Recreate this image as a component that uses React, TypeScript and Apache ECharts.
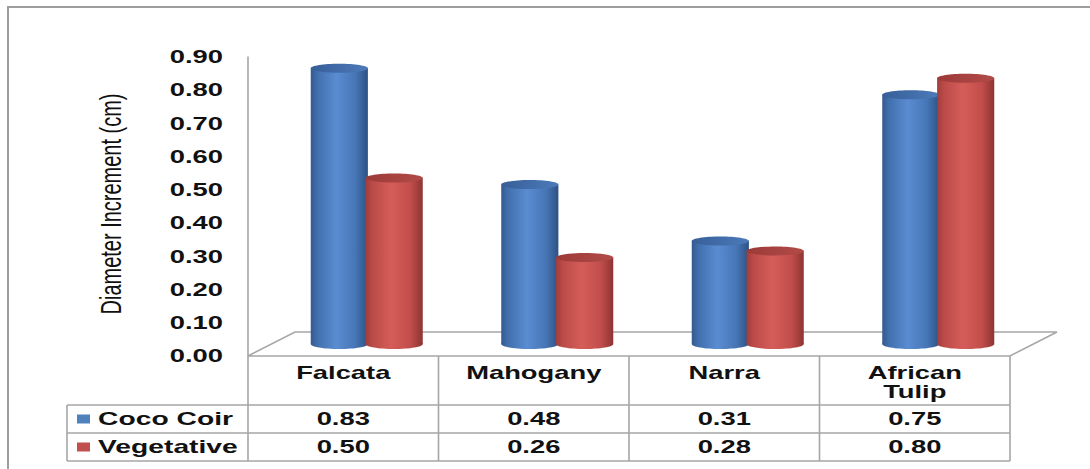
import React, { useEffect, useRef } from 'react';
import * as echarts from 'echarts';

// ---------- data ----------
const categories = ['Falcata', 'Mahogany', 'Narra', 'African Tulip'];
const seriesNames = ['Coco Coir', 'Vegetative'];
const cocoCoir = [0.83, 0.48, 0.31, 0.75];
const vegetative = [0.5, 0.26, 0.28, 0.8];
const yTickValues = [0, 0.1, 0.2, 0.3, 0.4, 0.5, 0.6, 0.7, 0.8, 0.9];
const yAxisName = 'Diameter Increment (cm)';

// ---------- layout / style ----------
const W = 1090;
const H = 469;
const PLOT_LEFT = 248;
const PLOT_RIGHT = 1010;
const PLOT_TOP = 57;
const PLOT_BOTTOM = 356;
const DEPTH_X = 47;
const DEPTH_Y = 24;
const ROW1 = 405;
const ROW2 = 433;
const ROW3 = 461;
const LEG_LEFT = 67;
const STRETCH = 1.52;
const LINE = '#a6a6a6';
const TXT = '#111';
const FONT_B = 'bold 18px "Liberation Sans", Arial, sans-serif';

const palettes = [
  {
    key: '#4f81bd',
    body: [
      [0, '#33598f'],
      [0.12, '#4270ae'],
      [0.45, '#5a8cd2'],
      [0.78, '#4776b6'],
      [1, '#2d5284'],
    ],
    top: [
      [0, '#375f98'],
      [1, '#4c7aba'],
    ],
  },
  {
    key: '#c0504d',
    body: [
      [0, '#a13d3b'],
      [0.12, '#bb4b48'],
      [0.45, '#d55d59'],
      [0.78, '#c14e4b'],
      [1, '#8e3433'],
    ],
    top: [
      [0, '#9c3a38'],
      [1, '#b24b48'],
    ],
  },
];

function grad(stops: any[]) {
  return new echarts.graphic.LinearGradient(
    0,
    0,
    1,
    0,
    stops.map(([offset, color]) => ({ offset, color }))
  );
}

function makeRenderItem(side: number) {
  const pal = palettes[side];
  return (params: any, api: any) => {
    const idx = api.value(0);
    const v = api.value(1);
    const base = api.coord([idx, 0]);
    const top = api.coord([idx, v]);
    const band = api.size([1, 0])[0];
    const w = band * 0.3;
    const sep = band * 0.144;
    const cx = base[0] + DEPTH_X / 2 + (side === 0 ? -sep : sep);
    const yb = base[1] - DEPTH_Y / 2;
    const yt = top[1] - DEPTH_Y / 2;
    const rx = w / 2;
    return {
      type: 'group',
      children: [
        {
          type: 'ellipse',
          shape: { cx, cy: yb, rx, ry: 5 },
          style: { fill: grad(pal.body) },
        },
        {
          type: 'rect',
          shape: { x: cx - rx, y: yt, width: w, height: yb - yt },
          style: { fill: grad(pal.body) },
        },
        {
          type: 'ellipse',
          shape: { cx, cy: yt, rx, ry: 4.5 },
          style: { fill: grad(pal.top) },
        },
      ],
    };
  };
}

function stretchedText(
  text: string,
  x: number,
  y: number,
  align: string,
  verticalAlign = 'middle',
  extra: any = {},
  scaleX = STRETCH
) {
  return {
    type: 'text',
    x,
    y,
    scaleX,
    z: 10,
    style: {
      text,
      x: 0,
      y: 0,
      align,
      verticalAlign,
      font: FONT_B,
      fill: TXT,
      ...extra,
    },
  };
}

function line(x1: number, y1: number, x2: number, y2: number) {
  return {
    type: 'line',
    z: 1,
    shape: { x1, y1, x2, y2 },
    style: { stroke: LINE, lineWidth: 1.6 },
  };
}

export default function App() {
  const ref = useRef<HTMLDivElement>(null);

  useEffect(() => {
    if (!ref.current) return;
    const chart = echarts.init(ref.current, undefined, { renderer: 'svg' });

    const option: any = {
      animation: false,
      backgroundColor: '#ffffff',
      grid: {
        left: PLOT_LEFT,
        right: W - PLOT_RIGHT,
        top: PLOT_TOP,
        bottom: H - PLOT_BOTTOM,
      },
      xAxis: {
        type: 'category',
        data: categories,
        show: false,
      },
      yAxis: {
        type: 'value',
        name: '',
        min: 0,
        max: 0.9,
        interval: 0.1,
        axisLabel: { show: false },
        axisTick: { show: false },
        splitLine: { show: false },
        axisLine: { show: true, lineStyle: { color: LINE, width: 1.6 } },
      },
      series: [cocoCoir, vegetative].map((vals, s) => ({
        type: 'custom',
        name: seriesNames[s],
        z: 5,
        renderItem: makeRenderItem(s),
        encode: { x: 0, y: 1 },
        data: vals.map((v, i) => [i, v]),
      })),
    };
    chart.setOption(option);

    // decorations, computed from the axes
    const colW = (PLOT_RIGHT - PLOT_LEFT) / categories.length;
    const graphics: any[] = [];

    // outer frame
    graphics.push({
      type: 'rect',
      z: 0,
      shape: { x: 8, y: 7, width: W + 40, height: H + 40 },
      style: { fill: 'none', stroke: '#9e9e9e', lineWidth: 2 },
    });

    // floor
    graphics.push({
      type: 'polygon',
      z: 0,
      shape: {
        points: [
          [PLOT_LEFT, PLOT_BOTTOM],
          [PLOT_LEFT + DEPTH_X, PLOT_BOTTOM - DEPTH_Y],
          [PLOT_RIGHT + DEPTH_X, PLOT_BOTTOM - DEPTH_Y],
          [PLOT_RIGHT, PLOT_BOTTOM],
        ],
      },
      style: { fill: '#ffffff', stroke: LINE, lineWidth: 1.6 },
    });

    // y tick labels
    yTickValues.forEach((v) => {
      const py = chart.convertToPixel({ yAxisIndex: 0 }, v) as number;
      graphics.push(stretchedText(v.toFixed(2), 223, py, 'right'));
    });

    // y axis name
    graphics.push({
      type: 'text',
      x: 111,
      y: 204,
      rotation: Math.PI / 2,
      scaleY: 1.45,
      z: 10,
      style: {
        text: yAxisName,
        x: 0,
        y: 0,
        align: 'center',
        verticalAlign: 'middle',
        font: '20px "Liberation Sans", Arial, sans-serif',
        fill: '#111',
      },
    });

    // table grid
    graphics.push(line(PLOT_LEFT, PLOT_BOTTOM, PLOT_LEFT, ROW3));
    graphics.push(line(PLOT_RIGHT, PLOT_BOTTOM, PLOT_RIGHT, ROW3));
    graphics.push(line(LEG_LEFT, ROW1, LEG_LEFT, ROW3));
    for (let i = 1; i < categories.length; i++) {
      const x = PLOT_LEFT + colW * i;
      graphics.push(line(x, PLOT_BOTTOM, x, ROW3));
    }
    [ROW1, ROW2, ROW3].forEach((y) => graphics.push(line(LEG_LEFT, y, PLOT_RIGHT, y)));

    // headers
    categories.forEach((c, i) => {
      const cx = PLOT_LEFT + colW * (i + 0.5);
      graphics.push(
        stretchedText(c.replace(' ', '\n'), cx, 363, 'center', 'top', { lineHeight: 19 })
      );
    });

    // legend keys + values
    [cocoCoir, vegetative].forEach((vals, s) => {
      const rowTop = s === 0 ? ROW1 : ROW2;
      const cy = rowTop + (ROW2 - ROW1) / 2;
      graphics.push({
        type: 'rect',
        z: 10,
        shape: { x: 77, y: cy - 4.5, width: 13, height: 9 },
        style: { fill: palettes[s].key },
      });
      graphics.push(stretchedText(seriesNames[s], 98, cy, 'left', 'middle', {}, 1.57));
      vals.forEach((v, i) => {
        const cx = PLOT_LEFT + colW * (i + 0.5);
        graphics.push(stretchedText(v.toFixed(2), cx, cy, 'center'));
      });
    });

    chart.setOption({ graphic: graphics });

    return () => chart.dispose();
  }, []);

  return (
    <div
      ref={ref}
      style={{ position: 'fixed', left: 0, top: 0, width: W, height: H }}
    />
  );
}
